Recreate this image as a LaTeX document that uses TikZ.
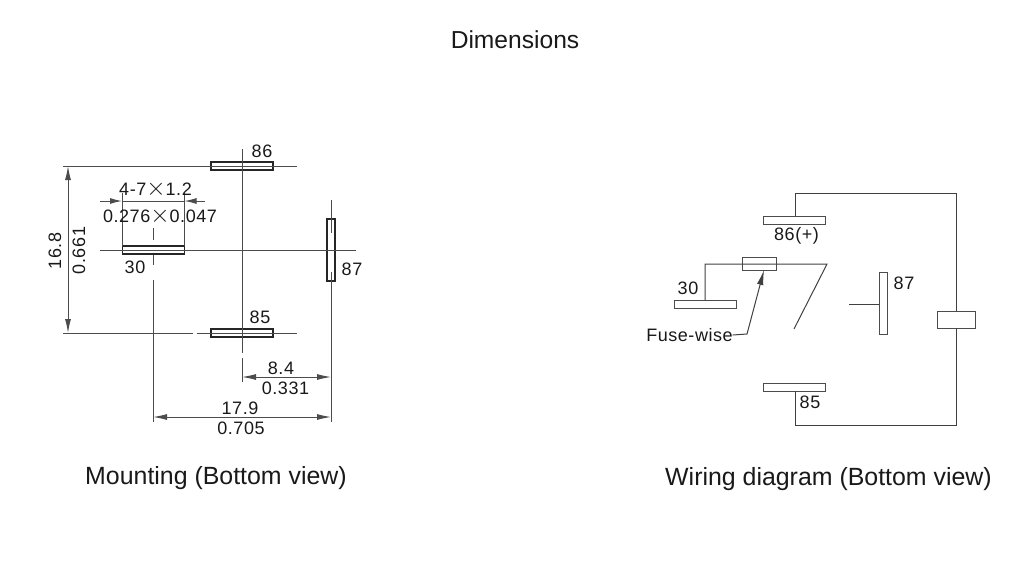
\documentclass[tikz,border=0pt]{standalone}
\usepackage{fontspec}
\setmainfont{Liberation Sans}
\newfontfamily\dimfont[LetterSpace=3]{Liberation Sans}
\usetikzlibrary{arrows.meta}
\newcommand{\pinlength}{62pt}
\newcommand{\pinwidth}{8pt}
\newcommand{\bigtimes}{{\fontsize{24}{24}\selectfont$\times$}}
\tikzstyle{terminal}=[draw, inner sep=0, outer sep=0]
\tikzstyle{hterminal}=[terminal, minimum width=\pinlength, minimum height=\pinwidth]
\tikzstyle{vterminal}=[terminal, minimum width=\pinwidth, minimum height=\pinlength]
\tikzstyle{mterminal}=[line width=1.4pt, black!85]
\tikzstyle{wterminal}=[line width=1pt, black!70]
\tikzstyle{wire}=[line width=1pt, black!75]
\tikzstyle{centerline}=[line width=1pt, black!70]
\tikzstyle{dimline}=[line width=1pt, black!70, {Latex[length=14pt,width=6pt]}-{Latex[length=14pt,width=6pt]}]
\tikzstyle{notext}=[inner sep=0, outer sep=0, text=black!90, font=\dimfont\fontsize{18}{20}\selectfont]
\tikzstyle{heading}=[inner sep=0, outer sep=0, text=black!90, font=\fontsize{24.9}{28}\selectfont]
\begin{document}
\begin{tikzpicture}[x=1pt, y=-1pt]
        \useasboundingbox (0, 0) rectangle (1024, 574);
        % Headings.
        \node[heading, font=\fontsize{24.6}{28}\selectfont] (title) at (515, 40) {Dimensions};
        \node[heading] (mount)  at (216, 478)   {Mounting (Bottom view)};
        \node[heading] (wiring) at (828.5, 479) {Wiring diagram (Bottom view)};
        % Mounting view.
        \node[hterminal, mterminal] (M86) at (242, 166)   {};
        \node[hterminal, mterminal] (M85) at (242, 333)   {};
        \node[hterminal, mterminal] (M30) at (153.5, 250) {};
        \node[vterminal, mterminal] (M87) at (331, 250)   {};
        \coordinate (topL)  at (63, 166);
        \coordinate (topR)  at (297, 166);
        \coordinate (botL)  at (63, 333);
        \coordinate (botG1) at (193, 333);
        \coordinate (botG2) at (197, 333);
        \coordinate (botR)  at (297, 333);
        \coordinate (midL)  at (100, 250);
        \coordinate (midR)  at (356, 250);
        \coordinate (ctrT)  at (242, 149);
        \coordinate (ctrG1) at (242, 353);
        \coordinate (ctrG2) at (242, 358);
        \coordinate (ctrB)  at (242, 382);
        \coordinate (a1)    at (153, 228);
        \coordinate (a2)    at (153, 240);
        \coordinate (a3)    at (153, 255);
        \coordinate (a4)    at (153, 265);
        \coordinate (a5)    at (153, 280);
        \coordinate (a6)    at (153, 422);
        \coordinate (b1)    at (331, 200);
        \coordinate (b2)    at (331, 233);
        \coordinate (b3)    at (331, 272);
        \coordinate (b4)    at (331, 422);
        \coordinate (slotL) at (122, 193);
        \coordinate (slotR) at (184.5, 193);
        \coordinate (slotL2) at (122, 246);
        \coordinate (slotR2) at (184.5, 246);
        \coordinate (arrL)  at (100, 201);
        \coordinate (arrLa) at (122, 201);
        \coordinate (arrRa) at (184.5, 201);
        \coordinate (arrR)  at (205, 201);
        \coordinate (hgtT)  at (68, 166);
        \coordinate (hgtB)  at (68, 333);
        \coordinate (d84L)  at (242, 377);
        \coordinate (d84R)  at (331, 377);
        \coordinate (d179L) at (153, 417);
        \coordinate (d179R) at (331, 417);
        \draw[centerline] (topL) -- (topR);
        \draw[centerline] (botL) -- (botG1);
        \draw[centerline] (botG2) -- (botR);
        \draw[centerline] (midL) -- (midR);
        \draw[centerline] (ctrT) -- (ctrG1);
        \draw[centerline] (ctrG2) -- (ctrB);
        \draw[centerline] (a1) -- (a2);
        \draw[centerline] (a3) -- (a4);
        \draw[centerline] (a5) -- (a6);
        \draw[centerline] (b1) -- (b2);
        \draw[centerline] (b3) -- (b4);
        \draw[centerline] (slotL) -- (slotL2);
        \draw[centerline] (slotR) -- (slotR2);
        \draw[centerline] (arrLa) -- (arrRa);
        \draw[dimline, {Latex[length=12pt,width=6pt]}-] (arrLa) -- (arrL);
        \draw[dimline, {Latex[length=12pt,width=6pt]}-] (arrRa) -- (arrR);
        \draw[dimline] (hgtT) -- (hgtB);
        \draw[dimline] (d84L) -- (d84R);
        \draw[dimline] (d179L) -- (d179R);
        \node[notext] (l86)  at (262, 151)   {86};
        \node[notext] (l85)  at (260, 317)   {85};
        \node[notext] (l30)  at (135, 267)   {30};
        \node[notext] (l87)  at (352, 269)   {87};
        \node[notext] (l47)  at (155.5, 189) {4-7\bigtimes1.2};
        \node[notext] (l276) at (160, 216)   {0.276\bigtimes0.047};
        \node[notext, rotate=90] (l168) at (55, 251)   {16.8};
        \node[notext, rotate=90] (l661) at (79, 250.5) {0.661};
        \node[notext] (l84)  at (281, 368)   {8.4};
        \node[notext] (l331) at (285.5, 388) {0.331};
        \node[notext] (l179) at (240, 408)   {17.9};
        \node[notext] (l705) at (241, 428)   {0.705};
        % Wiring diagram.
        \node[hterminal, wterminal] (W86) at (794.5, 220) {};
        \node[hterminal, wterminal] (W85) at (794.5, 387) {};
        \node[hterminal, wterminal] (W30) at (705.5, 304) {};
        \node[vterminal, wterminal] (W87) at (883.5, 303.5) {};
        \node[terminal, wterminal, minimum width=34pt, minimum height=13pt] (fuse) at (759, 263.5) {};
        \node[terminal, wterminal, minimum width=38pt, minimum height=17pt] (coil) at (956, 319.5) {};
        \coordinate (wTop)  at (795, 216);
        \coordinate (wTL)   at (795, 193);
        \coordinate (wTR)   at (956, 193);
        \coordinate (wBot)  at (795, 391);
        \coordinate (wBL)   at (795, 425);
        \coordinate (wBR)   at (956, 425);
        \coordinate (w30)   at (705, 300);
        \coordinate (w30T)  at (705, 264);
        \coordinate (tip)   at (827, 264);
        \coordinate (arm)   at (794, 329);
        \coordinate (stub)  at (849, 304);
        \coordinate (w87)   at (879, 304);
        \coordinate (lead)  at (747, 334);
        \coordinate (leadT) at (764, 270);
        \draw[wire] (wTop) -- (wTL) -- (wTR) -- (coil.north);
        \draw[wire] (wBot) -- (wBL) -- (wBR) -- (coil.south);
        \draw[wire] (w30) -- (w30T) -- (tip) -- (arm);
        \draw[wire] (stub) -- (w87);
        \node[notext] (f86)  at (796.5, 236) {86(+)};
        \node[notext] (f85)  at (810, 402)   {85};
        \node[notext] (f30)  at (688, 288)   {30};
        \node[notext] (f87)  at (904, 283)   {87};
        \node[notext] (fw)   at (689.5, 335) {Fuse-wise};
        \draw[wire, -{Latex[length=15pt,width=6.5pt]}] (fw.east) -- (lead) -- (leadT);
    \end{tikzpicture}
\end{document}
